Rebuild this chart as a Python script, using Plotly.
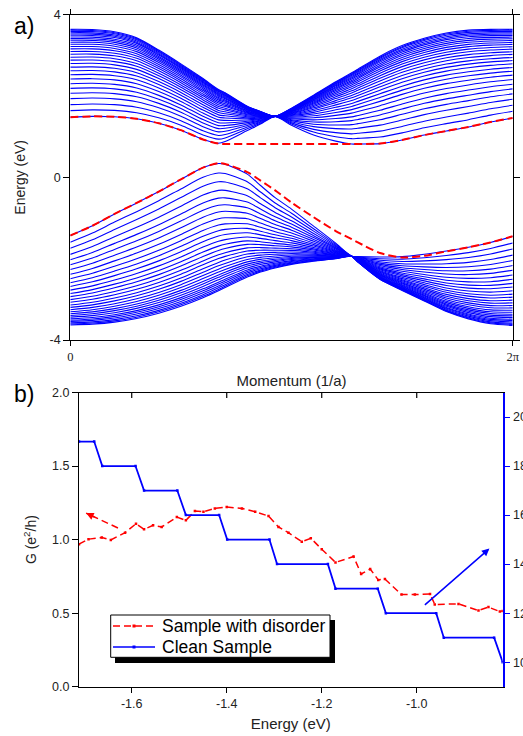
import numpy as np
import plotly.graph_objects as go

# ---------------- panel a) : ribbon band structure (read from picture) ----------------
# momentum sample positions, as fraction of 2*pi
K_FRAC = [0, 0.05, 0.10, 0.15, 0.20, 0.25, 0.30, 0.335, 0.35, 0.40, 0.43, 0.463,
          0.50, 0.55, 0.60, 0.636, 0.65, 0.70, 0.75, 0.80, 0.85, 0.90, 0.95, 1.00]
# envelopes of the upper (conduction) band group, eV
UPPER_TOP = [3.64, 3.635, 3.58, 3.43, 3.13, 2.79, 2.43, 2.16, 2.08, 1.75, 1.62, 1.50,
             1.70, 2.02, 2.35, 2.57, 2.66, 2.98, 3.24, 3.42, 3.55, 3.62, 3.64, 3.64]
UPPER_BOTTOM = [1.48, 1.50, 1.49, 1.44, 1.33, 1.16, 0.93, 0.84, 0.88, 1.15, 1.31, 1.50,
                1.28, 1.04, 0.89, 0.82, 0.82, 0.83, 0.92, 1.04, 1.14, 1.24, 1.36, 1.46]
# envelopes of the lower (valence) band group, eV
LOWER_TOP = [-1.43, -1.19, -0.90, -0.63, -0.35, -0.05, 0.24, 0.34, 0.32, 0.08, -0.20, -0.50,
             -0.78, -1.20, -1.62, -1.94, -1.95, -1.96, -1.95, -1.89, -1.81, -1.72, -1.60, -1.45]
LOWER_BOTTOM = [-3.63, -3.61, -3.56, -3.47, -3.34, -3.17, -2.96, -2.79, -2.71, -2.45, -2.33, -2.23,
                -2.14, -2.06, -2.00, -1.94, -2.08, -2.51, -2.78, -3.04, -3.30, -3.48, -3.60, -3.64]
# red dashed edge-state curves, eV
EDGE_UPPER = [1.48, 1.50, 1.49, 1.44, 1.33, 1.16, 0.93, 0.83, 0.82, 0.82, 0.82, 0.82,
              0.82, 0.82, 0.82, 0.82, 0.82, 0.83, 0.92, 1.04, 1.14, 1.24, 1.36, 1.46]
EDGE_LOWER = [-1.43, -1.19, -0.90, -0.63, -0.35, -0.05, 0.24, 0.35, 0.33, 0.13, -0.08, -0.32,
              -0.62, -0.98, -1.32, -1.52, -1.60, -1.86, -1.97, -1.93, -1.82, -1.72, -1.60, -1.45]
# relative position of each band line between the inner (gap side) and outer envelope
BAND_FRAC = [0.0, 0.075, 0.143, 0.211, 0.272, 0.328, 0.381, 0.434, 0.483, 0.528,
             0.570, 0.611, 0.649, 0.683, 0.717, 0.747, 0.777, 0.804, 0.830, 0.853,
             0.875, 0.894, 0.913, 0.932, 0.947, 0.962, 0.977, 0.989, 1.0]

# ---------------- panel b) : conductance ----------------
E_DISORDER = [-1.711, -1.691, -1.663, -1.644, -1.614, -1.591, -1.574, -1.555, -1.537, -1.505,
              -1.486, -1.467, -1.449, -1.425, -1.400, -1.368, -1.340, -1.312, -1.291, -1.270,
              -1.242, -1.223, -1.200, -1.171, -1.133, -1.117, -1.098, -1.081, -1.067, -1.032,
              -1.004, -0.972, -0.962, -0.912, -0.870, -0.849, -0.825, -0.819]
G_DISORDER = [0.969, 1.003, 1.014, 0.998, 1.047, 1.108, 1.070, 1.097, 1.086, 1.153,
              1.131, 1.194, 1.189, 1.212, 1.221, 1.212, 1.189, 1.160, 1.086, 1.047,
              0.986, 1.009, 0.935, 0.845, 0.885, 0.766, 0.800, 0.726, 0.732, 0.626,
              0.626, 0.631, 0.559, 0.563, 0.518, 0.541, 0.511, 0.515]
E_CLEAN = [-1.711, -1.679, -1.662, -1.592, -1.574, -1.504, -1.486, -1.416, -1.399, -1.310,
           -1.294, -1.187, -1.171, -1.082, -1.065, -0.959, -0.943, -0.837, -0.819]
G_CLEAN = [19, 19, 18, 18, 17, 17, 16, 16, 15, 15, 14, 14, 13, 13, 12, 12, 11, 11, 10]

X2_TICKS = [-1.6, -1.4, -1.2, -1.0]
X2_TICKTEXT = ["-1.6", "-1.4", "-1.2", "-1.0"]
Y2_TICKS = [0, 0.5, 1.0, 1.5, 2.0]
Y2_TICKTEXT = ["0.0", "0.5", "1.0", "1.5", "2.0"]
Y3_TICKS = [10, 12, 14, 16, 18, 20]
LEGEND_NAMES = ["Sample with disorder", "Clean Sample"]

W, H = 523, 736
BLUE = "#0000FF"
RED = "#FF0000"
FONT = "Arial, Liberation Sans, sans-serif"
SERIF = "Liberation Serif, Times New Roman, serif"

def px_x(p):
    return p / W

def px_y(p):
    return 1 - p / H

fig = go.Figure()
k = [f * 2 * np.pi for f in K_FRAC]

for fr in BAND_FRAC:
    yu = [b + fr * (t - b) for b, t in zip(UPPER_BOTTOM, UPPER_TOP)]
    fig.add_trace(go.Scatter(x=k, y=yu, mode="lines", xaxis="x", yaxis="y",
                             line=dict(color=BLUE, width=1.1, shape="spline", smoothing=0.7),
                             showlegend=False, hoverinfo="skip"))
    yl = [t + fr * (b - t) for b, t in zip(LOWER_BOTTOM, LOWER_TOP)]
    fig.add_trace(go.Scatter(x=k, y=yl, mode="lines", xaxis="x", yaxis="y",
                             line=dict(color=BLUE, width=1.1, shape="spline", smoothing=0.7),
                             showlegend=False, hoverinfo="skip"))

for edge in (EDGE_UPPER, EDGE_LOWER):
    fig.add_trace(go.Scatter(x=k, y=edge, mode="lines", xaxis="x", yaxis="y",
                             line=dict(color=RED, width=2, dash="8px,4px", shape="spline", smoothing=0.7),
                             showlegend=False, hoverinfo="skip"))

fig.add_trace(go.Scatter(x=E_DISORDER, y=G_DISORDER, mode="lines+markers", xaxis="x2", yaxis="y2",
                         name=LEGEND_NAMES[0], showlegend=False,
                         line=dict(color=RED, width=1.5, dash="7px,4px"),
                         marker=dict(color=RED, size=2.5, symbol="square")))
fig.add_trace(go.Scatter(x=E_CLEAN, y=G_CLEAN, mode="lines+markers", xaxis="x2", yaxis="y3",
                         name=LEGEND_NAMES[1], showlegend=False,
                         line=dict(color=BLUE, width=1.8),
                         marker=dict(color=BLUE, size=2.5, symbol="square")))

# dashed red arrow (shaft)
ARROW_RED_TAIL = (-1.629, 1.079)
ARROW_RED_HEAD = (-1.696, 1.180)
fig.add_trace(go.Scatter(x=[ARROW_RED_TAIL[0], ARROW_RED_HEAD[0]], y=[ARROW_RED_TAIL[1], ARROW_RED_HEAD[1]],
                         mode="lines", xaxis="x2", yaxis="y2", showlegend=False, hoverinfo="skip",
                         line=dict(color=RED, width=1.5, dash="7px,4px")))
ARROW_BLUE_TAIL = (-0.986, 0.547)
ARROW_BLUE_HEAD = (-0.847, 0.939)

axis_common = dict(showgrid=False, zeroline=False, showline=True, linecolor="black",
                   linewidth=1.2, tickcolor="black", automargin=False)
tick_font = dict(family=FONT, size=12.5, color="#222")

fig.update_layout(
    width=W, height=H, margin=dict(l=0, r=0, t=0, b=0, autoexpand=False),
    paper_bgcolor="white", plot_bgcolor="white", showlegend=False,
    font=dict(family=FONT, color="#222"),
    xaxis=dict(domain=[px_x(70.3), px_x(512.7)], anchor="y", range=[0, 2 * np.pi],
               tickvals=[0, 2 * np.pi], ticktext=["0", "2π"], ticks="outside", ticklen=5,
               mirror="ticks", tickfont=dict(family=SERIF, size=12.5, color="#222"),
               title=dict(text="Momentum (1/a)", font=dict(family=FONT, size=15, color="#222"), standoff=12),
               **axis_common),
    yaxis=dict(domain=[px_y(340), px_y(14.7)], anchor="x", range=[-4, 4],
               tickvals=[-4, 0, 4], ticktext=["-4", "0", "4"], ticks="outside", ticklen=6,
               mirror="ticks", tickfont=tick_font,
               title=dict(text="Energy (eV)", font=dict(family=FONT, size=14, color="#222"), standoff=20),
               **axis_common),
    xaxis2=dict(domain=[px_x(79), px_x(502.7)], anchor="y2", range=[-1.711, -0.819],
                tickvals=X2_TICKS, ticktext=X2_TICKTEXT, ticks="outside", ticklen=5, mirror=True,
                tickfont=tick_font,
                title=dict(text="Energy (eV)", font=dict(family=FONT, size=15, color="#222"), standoff=8),
                **axis_common),
    yaxis2=dict(domain=[px_y(686.7), px_y(392.5)], anchor="x2", range=[0, 2],
                tickvals=Y2_TICKS, ticktext=Y2_TICKTEXT, ticks="outside", ticklen=6,
                tickfont=tick_font,
                title=dict(text="G (e<sup>2</sup>/h)", font=dict(family=FONT, size=14, color="#222"), standoff=12),
                **axis_common),
    yaxis3=dict(overlaying="y2", side="right", anchor="x2", range=[9, 21],
                tickvals=Y3_TICKS, ticks="outside", ticklen=6, showgrid=False, zeroline=False,
                showline=True, linecolor=BLUE, linewidth=1.5, tickcolor=BLUE, automargin=False,
                tickfont=tick_font),
)

shapes = []
# inward ticks on top axis of panel b
for v in X2_TICKS:
    shapes.append(dict(type="line", xref="x2", yref="paper", x0=v, x1=v,
                       y0=px_y(392.5), y1=px_y(398), line=dict(color="black", width=1.2)))
# hand-drawn legend box with black drop shadow (Origin style)
shapes.append(dict(type="rect", xref="paper", yref="paper",
                   x0=px_x(115), x1=px_x(335), y0=px_y(663), y1=px_y(620),
                   fillcolor="black", line=dict(width=0), layer="above"))
shapes.append(dict(type="rect", xref="paper", yref="paper",
                   x0=px_x(110.7), x1=px_x(330), y0=px_y(657.3), y1=px_y(615),
                   fillcolor="white", line=dict(color="black", width=1), layer="above"))
legend_rows = [(626, RED, "7px,4px"), (647, BLUE, "solid")]
for yy, col, dash in legend_rows:
    shapes.append(dict(type="line", xref="paper", yref="paper",
                       x0=px_x(113), x1=px_x(155), y0=px_y(yy), y1=px_y(yy),
                       line=dict(color=col, width=1.6, dash=dash), layer="above"))
    shapes.append(dict(type="rect", xref="paper", yref="paper",
                       x0=px_x(132.5), x1=px_x(135.5), y0=px_y(yy + 1.5), y1=px_y(yy - 1.5),
                       fillcolor=col, line=dict(width=0), layer="above"))
fig.update_layout(shapes=shapes)

annotations = [
    dict(text="a)", x=px_x(24), y=px_y(26), xref="paper", yref="paper", showarrow=False,
         xanchor="center", yanchor="middle", font=dict(family=FONT, size=23, color="black")),
    dict(text="b)", x=px_x(24), y=px_y(394), xref="paper", yref="paper", showarrow=False,
         xanchor="center", yanchor="middle", font=dict(family=FONT, size=23, color="black")),
    # red arrow head
    dict(x=ARROW_RED_HEAD[0], y=ARROW_RED_HEAD[1], xref="x2", yref="y2", ax=10, ay=4.7,
         text="", showarrow=True, arrowhead=2, arrowsize=1, arrowwidth=1.5, arrowcolor=RED),
    # blue arrow
    dict(x=ARROW_BLUE_HEAD[0], y=ARROW_BLUE_HEAD[1], xref="x2", yref="y2",
         ax=ARROW_BLUE_TAIL[0], ay=ARROW_BLUE_TAIL[1], axref="x2", ayref="y2",
         text="", showarrow=True, arrowhead=2, arrowsize=1, arrowwidth=1.5, arrowcolor=BLUE),
]
for (yy, col, dash), name in zip(legend_rows, LEGEND_NAMES):
    annotations.append(dict(text=name, x=px_x(160), y=px_y(yy), xref="paper", yref="paper",
                            xanchor="left", yanchor="middle", showarrow=False,
                            font=dict(family=FONT, size=17.5, color="black")))
fig.update_layout(annotations=annotations)

fig.write_html("out.html")
